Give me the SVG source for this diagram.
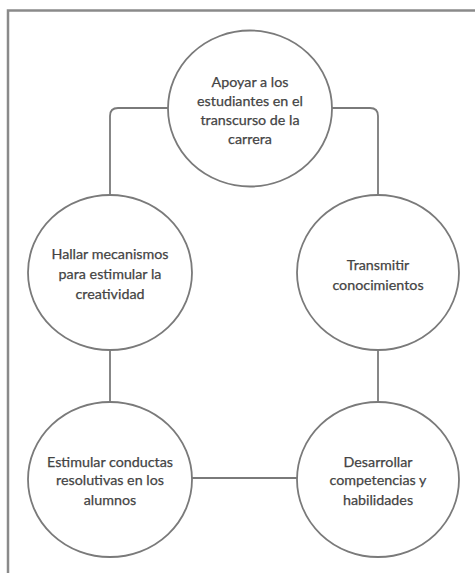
<svg xmlns="http://www.w3.org/2000/svg" width="475" height="573" viewBox="0 0 475 573">
  <style>
    .node { fill: #ffffff; stroke: #7a7a7a; stroke-width: 1.8; }
    .link { fill: none; stroke: #7a7a7a; stroke-width: 1.8; }
    .label { font-family: Lato, "Open Sans", sans-serif; font-size: 14.3px; fill: #444444; stroke: #444444; stroke-width: 0.25; text-anchor: middle; }
  </style>
  <rect x="0" y="0" width="475" height="573" fill="#ffffff"/>
  <!-- frame -->
  <path d="M8 573 V10.5 H475" fill="none" stroke="#8a8a8a" stroke-width="2.5"/>

  <g id="connectors">
    <path class="link" d="M168 108 H118 Q110 108 110 116 V195"/>
    <path class="link" d="M332 108 H370 Q378 108 378 116 V195"/>
    <path class="link" d="M110 350 V402"/>
    <path class="link" d="M378 350 V402"/>
    <path class="link" d="M192 478 H297"/>
  </g>

  <g id="apoyar">
    <ellipse class="node" cx="250" cy="108.5" rx="82" ry="78"/>
    <text class="label" x="250" y="86.5">Apoyar a los</text>
    <text class="label" x="250" y="105.5">estudiantes en el</text>
    <text class="label" x="250" y="125">transcurso de la</text>
    <text class="label" x="250" y="143.5">carrera</text>
  </g>

  <g id="hallar">
    <ellipse class="node" cx="110" cy="272.5" rx="82" ry="77.5"/>
    <text class="label" x="110" y="259">Hallar mecanismos</text>
    <text class="label" x="110" y="279">para estimular la</text>
    <text class="label" x="110" y="299">creatividad</text>
  </g>

  <g id="transmitir">
    <ellipse class="node" cx="378" cy="272.5" rx="81" ry="77.5"/>
    <text class="label" x="378" y="270">Transmitir</text>
    <text class="label" x="378" y="290">conocimientos</text>
  </g>

  <g id="estimular">
    <ellipse class="node" cx="110" cy="479.5" rx="82" ry="77.5"/>
    <text class="label" x="110" y="466.5">Estimular conductas</text>
    <text class="label" x="110" y="485">resolutivas en los</text>
    <text class="label" x="110" y="505">alumnos</text>
  </g>

  <g id="desarrollar">
    <ellipse class="node" cx="378" cy="479.5" rx="81" ry="77.5"/>
    <text class="label" x="378" y="466.5">Desarrollar</text>
    <text class="label" x="378" y="485">competencias y</text>
    <text class="label" x="378" y="505">habilidades</text>
  </g>
</svg>
